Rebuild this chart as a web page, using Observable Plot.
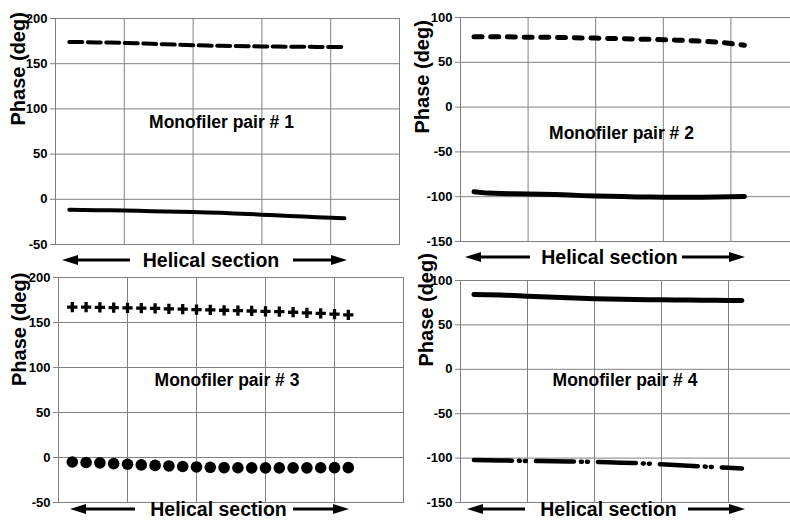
<!DOCTYPE html>
<html><head><meta charset="utf-8">
<script src="https://cdn.jsdelivr.net/npm/d3@7"></script>
<script src="https://cdn.jsdelivr.net/npm/@observablehq/plot@0.6"></script>
<style>
html,body{margin:0;padding:0;background:#fff;}
#root{position:relative;width:790px;height:520px;overflow:hidden;font-family:"Liberation Sans",Arial,sans-serif;}
.panel{position:absolute;}
.panel svg{max-width:none;overflow:visible;display:block;}
.panel svg text{font-weight:bold;}
#overlay{position:absolute;left:0;top:0;pointer-events:none;}
</style></head><body><div id="root"></div>
<script>
// Section index along the helical section
const section = [1,2,3,4,5,6,7,8,9,10,11,12,13,14,15,16,17,18,19,20,21];
const xGrid = [5,10,15,20];
const yTicksA = [-50,0,50,100,150,200];
const yTicksB = [-150,-100,-50,0,50,100];
const yLabel = "Phase (deg)";
const xLabel = "Helical section";
const titles = ["Monofiler pair # 1","Monofiler pair # 2","Monofiler pair # 3","Monofiler pair # 4"];

// Phase values (deg)
const p1Dashed = [174,174,173.5,173.5,173,172.5,172,171.5,171,170.5,170,169.8,169.5,169.3,169,169,168.8,168.7,168.6,168.5,168.5];
const p1Solid  = [-11.5,-11.7,-12,-12.2,-12.5,-12.8,-13.1,-13.4,-13.7,-14,-14.5,-15,-15.6,-16.2,-17,-17.7,-18.4,-19.1,-19.8,-20.4,-21];
const p2Dashed = [78.5,78.5,78.5,78.3,78,78,77.8,77.5,77.2,77,76.6,76.3,76,75.6,75.2,74.7,74.2,73.4,72.5,71,69];
const p2Solid  = [-94.5,-96,-96.5,-96.8,-97,-97.3,-97.6,-98.2,-98.8,-99.2,-99.6,-99.9,-100.2,-100.4,-100.6,-100.7,-100.7,-100.6,-100.4,-100.1,-99.8];
const p3Plus   = [167,167,166.8,166.6,166.3,166,165.6,165.2,164.8,164.4,164,163.6,163.2,162.8,162.4,162,161.4,160.8,160.1,159.3,158.5];
const p3Circle = [-5,-5.5,-6,-6.8,-7.5,-8.2,-8.8,-9.4,-10,-10.5,-10.9,-11.2,-11.4,-11.5,-11.5,-11.5,-11.5,-11.5,-11.4,-11.3,-11.3];
const p4Solid  = [84.3,84,83.6,83,82.4,81.8,81.2,80.6,80,79.5,79.2,78.9,78.6,78.4,78.3,78.1,78,77.8,77.7,77.6,77.5];
const p4DashDot= [-102.2,-102.4,-102.6,-102.9,-103.2,-103.4,-103.6,-103.8,-104,-104.3,-104.7,-105.1,-105.6,-106.2,-107,-107.8,-108.6,-109.4,-110.2,-111,-111.8];

const rows = vals => section.map((s, i) => ({s, v: vals[i]}));
const root = document.getElementById("root");
const GRID = "#808080";
const FONT = "'Liberation Sans', Arial, sans-serif";

function panel(cfg) {
  const div = document.createElement("div");
  div.className = "panel";
  div.style.left = cfg.left + "px";
  div.style.top = cfg.top + "px";
  div.style.width = cfg.width + "px";
  const chart = Plot.plot({
    width: cfg.width, height: cfg.height,
    marginLeft: cfg.ml, marginRight: cfg.mr, marginTop: cfg.mt, marginBottom: cfg.mb,
    style: {fontFamily: FONT, fontWeight: "bold", background: "transparent", color: "black", overflow: "visible"},
    x: {domain: [0, 25], axis: null},
    y: {domain: cfg.yDomain, axis: null},
    marks: [
      Plot.gridX(xGrid, {stroke: GRID, strokeOpacity: 1, strokeWidth: 1}),
      Plot.gridY(cfg.yTicks, {stroke: GRID, strokeOpacity: 1, strokeWidth: 1}),
      Plot.frame({stroke: GRID, strokeWidth: 1}),
      Plot.axisY(cfg.yTicks, {tickSize: 5, tickPadding: 3, fontSize: 13, fontWeight: "bold", stroke: GRID, fill: "black", label: null, tickFormat: d => String(d)}),
      ...cfg.marks,
      Plot.text([yLabel], {frameAnchor: "left", rotate: -90, dx: cfg.labelDx, dy: cfg.labelDy, fontSize: 20, fontWeight: "bold", fill: "black"}),
      Plot.text([cfg.title], {frameAnchor: "middle", dx: cfg.titleDx, dy: cfg.titleDy, fontSize: 17.5, fontWeight: "bold", fill: "black"})
    ]
  });
  div.appendChild(chart);
  root.appendChild(div);
}

panel({left: 0, top: 0, width: 400, height: 250, ml: 55, mr: 1, mt: 18, mb: 6,
  yDomain: [-50, 200], yTicks: yTicksA, title: titles[0], labelDx: -37, labelDy: -6, titleDx: -6, titleDy: -9,
  marks: [
    Plot.line(rows(p1Dashed), {x: "s", y: "v", stroke: "black", strokeWidth: 4, strokeDasharray: "13,5.5"}),
    Plot.line(rows(p1Solid), {x: "s", y: "v", stroke: "black", strokeWidth: 4})
  ]});

panel({left: 395, top: 0, width: 403, height: 250, ml: 65, mr: 0, mt: 17, mb: 9,
  yDomain: [-150, 100], yTicks: yTicksB, title: titles[1], labelDx: -38, labelDy: 4, titleDx: -8, titleDy: 4,
  marks: [
    Plot.line(rows(p2Dashed), {x: "s", y: "v", stroke: "black", strokeWidth: 5, strokeDasharray: "8,8.7", strokeLinecap: "round"}),
    Plot.line(rows(p2Solid), {x: "s", y: "v", stroke: "black", strokeWidth: 5, strokeLinecap: "round"})
  ]});

panel({left: 0, top: 260, width: 404, height: 250, ml: 58, mr: 1, mt: 17, mb: 8,
  yDomain: [-50, 200], yTicks: yTicksA, title: titles[2], labelDx: -39, labelDy: -4, titleDx: -4, titleDy: -10,
  marks: [
    Plot.dot(rows(p3Plus), {x: "s", y: "v", symbol: "plus", r: 3.4, stroke: "black", strokeWidth: 3.3, fill: "none"}),
    Plot.dot(rows(p3Circle), {x: "s", y: "v", r: 5.8, fill: "black", stroke: "none"})
  ]});

panel({left: 395, top: 260, width: 400, height: 250, ml: 65, mr: 0, mt: 20, mb: 8,
  yDomain: [-150, 100], yTicks: yTicksB, title: titles[3], labelDx: -34, labelDy: -25, titleDx: -3, titleDy: -11,
  marks: [
    Plot.line(rows(p4Solid), {x: "s", y: "v", stroke: "black", strokeWidth: 5, strokeLinecap: "round"}),
    Plot.line(rows(p4DashDot), {x: "s", y: "v", stroke: "black", strokeWidth: 4.5, strokeLinecap: "round", strokeDasharray: "38,7,1,5,1,10"})
  ]});

// "Helical section" captions with double arrows under each panel
const captions = [
  {l1: 62, l2: 130, tx: 211, r1: 293, r2: 347, y: 260},
  {l1: 465, l2: 530, tx: 609.5, r1: 682, r2: 745, y: 257},
  {l1: 70, l2: 135, tx: 218.5, r1: 293, r2: 349, y: 509},
  {l1: 467, l2: 525, tx: 608.5, r1: 688, r2: 745, y: 509}
];
const ov = d3.select(root).append("svg").attr("id", "overlay").attr("width", 790).attr("height", 520);
for (const c of captions) {
  const g = ov.append("g");
  g.append("line").attr("x1", c.l1 + 12).attr("x2", c.l2).attr("y1", c.y).attr("y2", c.y).attr("stroke", "black").attr("stroke-width", 3);
  g.append("path").attr("d", `M${c.l1},${c.y}L${c.l1 + 16},${c.y - 5}L${c.l1 + 16},${c.y + 5}Z`).attr("fill", "black");
  g.append("line").attr("x1", c.r1).attr("x2", c.r2 - 12).attr("y1", c.y).attr("y2", c.y).attr("stroke", "black").attr("stroke-width", 3);
  g.append("path").attr("d", `M${c.r2},${c.y}L${c.r2 - 16},${c.y - 5}L${c.r2 - 16},${c.y + 5}Z`).attr("fill", "black");
  g.append("text").attr("x", c.tx).attr("y", c.y).attr("text-anchor", "middle").attr("dy", "0.35em")
    .attr("font-family", FONT).attr("font-weight", "bold").attr("font-size", 19.5).text(xLabel);
}
</script></body></html>
